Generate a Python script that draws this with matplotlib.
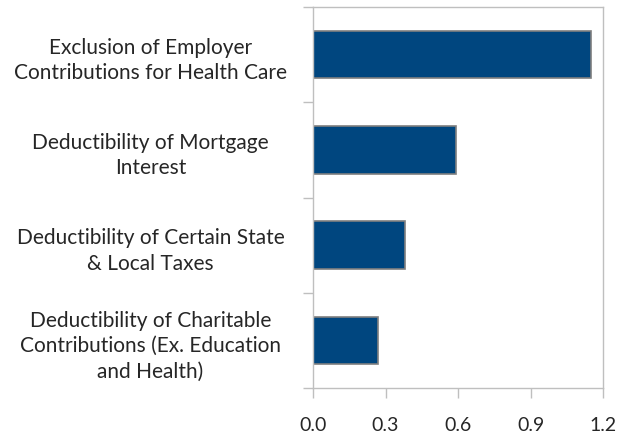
import matplotlib.pyplot as plt

# Tax expenditure categories (top to bottom) and their values
categories = [
    "Exclusion of Employer\nContributions for Health Care",
    "Deductibility of Mortgage\nInterest",
    "Deductibility of Certain State\n& Local Taxes",
    "Deductibility of Charitable\nContributions (Ex. Education\nand Health)",
]
values = [1.15, 0.59, 0.38, 0.27]
xticks = [0.0, 0.3, 0.6, 0.9, 1.2]

plt.rcParams['font.family'] = ['Lato', 'DejaVu Sans']

fig = plt.figure(figsize=(6.24, 4.35), dpi=100)
ax = fig.add_axes([313 / 624, 1 - 389 / 435, 290 / 624, 381 / 435])

pos = list(range(len(categories)))[::-1]
ax.barh(pos, values, height=0.5, color='#00467F', edgecolor='#7F7F7F', linewidth=1.2)

ax.set_xlim(0, 1.2)
ax.set_ylim(-0.5, len(categories) - 0.5)
ax.set_xticks(xticks)
ax.set_xticklabels([f"{t:.1f}" for t in xticks], fontsize=14, color='#262626')

# category labels centred between the boundary ticks
ax.set_yticks([p - 0.5 for p in range(len(categories) + 1)])
ax.set_yticklabels([])
ax.set_yticks(pos, minor=True)
ax.set_yticklabels(categories, minor=True, fontsize=15, color='#262626',
                   ha='center', multialignment='center', linespacing=1.35)
ax.tick_params(axis='y', which='minor', length=0, pad=117)
ax.tick_params(axis='y', which='major', length=7, color='#BFBFBF', width=1)
ax.tick_params(axis='x', length=7, color='#BFBFBF', width=1, pad=13)

for s in ax.spines.values():
    s.set_color('#BFBFBF')
    s.set_linewidth(1)

fig.savefig("out.png", dpi=100)
